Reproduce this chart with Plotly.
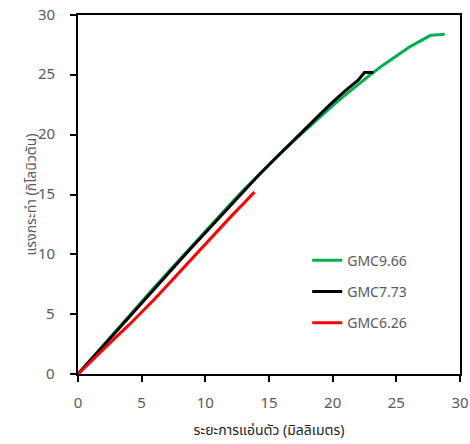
import plotly.graph_objects as go

# GMC9.66
x_966 = [0, 1, 2, 3, 4, 5, 6, 7, 8, 9, 10, 11, 12, 13, 14, 15, 16, 17, 18, 19, 20,
         21, 22, 23, 24, 25, 26, 27, 27.7, 28.3, 28.8]
y_966 = [0, 1.22, 2.44, 3.65, 4.85, 6.05, 7.24, 8.42, 9.6, 10.76, 11.9, 13.05, 14.25,
         15.38, 16.45, 17.5, 18.55, 19.55, 20.52, 21.48, 22.42, 23.33, 24.2, 25.05,
         25.85, 26.6, 27.3, 27.9, 28.3, 28.35, 28.4]
# GMC7.73
x_773 = [0, 1, 2, 3, 4, 5, 6, 7, 8, 9, 10, 11, 12, 13, 14, 15, 16, 17, 18, 19, 20,
         21, 22, 22.5, 23.2]
y_773 = [0, 1.15, 2.35, 3.55, 4.75, 5.95, 7.12, 8.3, 9.48, 10.65, 11.8, 12.95, 14.15,
         15.3, 16.4, 17.48, 18.55, 19.6, 20.65, 21.7, 22.72, 23.68, 24.55, 25.2, 25.2]
# GMC6.26
x_626 = [0, 1, 2, 3, 4, 5, 6, 7, 8, 9, 10, 11, 12, 13, 13.85]
y_626 = [0, 1.05, 2.1, 3.1, 4.1, 5.15, 6.25, 7.4, 8.55, 9.75, 10.9, 12.05, 13.15, 14.25, 15.2]

names = ["GMC9.66", "GMC7.73", "GMC6.26"]
colors = ["#00B050", "#000000", "#FF0000"]
xs = [x_966, x_773, x_626]
ys = [y_966, y_773, y_626]

x_title = "ระยะการแอ่นตัว (มิลลิเมตร)"
y_title = "แรงกระทำ (กิโลนิวตัน)"
tickvals = [0, 5, 10, 15, 20, 25, 30]
ticktext = ["0", "5", "10", "15", "20", "25", "30"]

FONT = "Tahoma, 'Noto Sans Thai', 'Noto Sans', 'DejaVu Sans', sans-serif"
GRAY = "#595959"

fig = go.Figure()
for i, (n, c, x, y) in enumerate(zip(names, colors, xs, ys)):
    fig.add_trace(go.Scatter(x=x, y=y, mode="lines", name=n, legendgroup=str(i),
                             line=dict(color=c, width=3)))

axis_common = dict(
    range=[0, 30], tickvals=tickvals, ticktext=ticktext, ticks="outside", ticklen=6,
    tickwidth=1.5, tickcolor="black", showline=True, linecolor="black", linewidth=2,
    mirror=True, showgrid=False, zeroline=False,
    tickfont=dict(family=FONT, size=15, color=GRAY), automargin=False,
)

# y tick labels placed further from the axis, as in the reference
for v, t in zip(tickvals, ticktext):
    fig.add_annotation(x=0, xref="paper", y=v, yref="y", text=t, showarrow=False,
                       xanchor="right", yanchor="middle", xshift=-21,
                       font=dict(family=FONT, size=15, color=GRAY))

fig.update_layout(
    width=470, height=444, autosize=False,
    margin=dict(l=78, r=10, t=15, b=70, autoexpand=False),
    paper_bgcolor="white", plot_bgcolor="white",
    showlegend=True,
    legend=dict(x=0.6, y=0.36, xanchor="left", yanchor="top",
                traceorder="grouped", tracegroupgap=10,
                bgcolor="rgba(0,0,0,0)",
                font=dict(family=FONT, size=14, color=GRAY)),
    xaxis=dict(**axis_common, ticklabelstandoff=8,
               title=dict(text=x_title, standoff=11,
                          font=dict(family=FONT, size=14, color="#222222"))),
    yaxis=dict(**axis_common, showticklabels=False,
               title=dict(text=y_title, standoff=30,
                          font=dict(family=FONT, size=14, color=GRAY))),
)

fig.write_html("out.html")
